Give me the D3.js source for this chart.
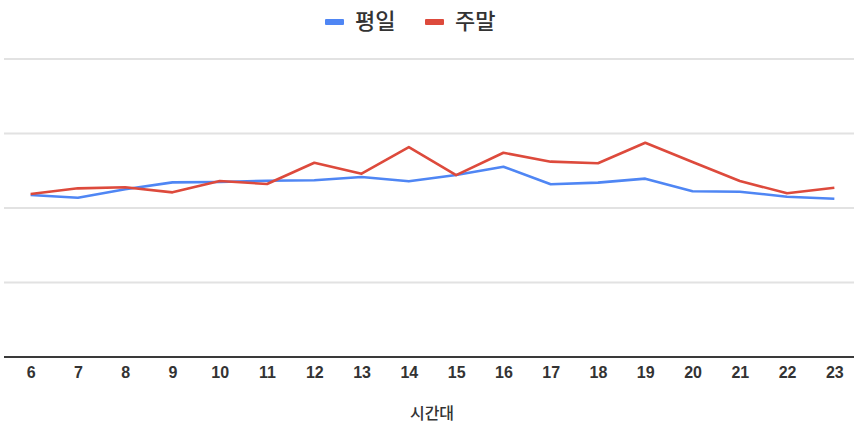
<!DOCTYPE html>
<html>
<head>
<meta charset="utf-8">
<script src="https://cdn.jsdelivr.net/npm/d3@7"></script>
<style>
  html, body { margin: 0; padding: 0; background: #fff; }
  svg { display: block; }
  text { font-family: "Noto Sans CJK KR", "Noto Sans", sans-serif; }
  .tick text { font-family: "Liberation Sans", Arial, sans-serif; }
</style>
</head>
<body>
<svg id="chart" width="854" height="424"></svg>
<script>
// Hours of the day (x categories)
const hours = [6, 7, 8, 9, 10, 11, 12, 13, 14, 15, 16, 17, 18, 19, 20, 21, 22, 23];
// Weekday series
const weekday = [108.7, 106.9, 112.6, 117.2, 117.4, 118.3, 118.6, 120.8, 117.9, 122.1, 127.7, 115.9, 117.0, 119.7, 111.2, 110.9, 107.6, 106.2];
// Weekend series
const weekend = [109.4, 113.2, 113.9, 110.5, 118.1, 116.1, 130.4, 123.0, 140.9, 122.1, 137.1, 131.1, 130.0, 143.8, 130.9, 118.1, 109.9, 113.6];
// Horizontal gridline values
const gridTicks = [50, 100, 150, 200];

const seriesNames = ["평일", "주말"];
const seriesColors = ["#4f86f4", "#dd4a3c"];
const xTitle = "시간대";

const svg = d3.select("#chart");
const W = 854;

const x = d3.scalePoint()
  .domain(hours)
  .range([7, 858])
  .padding(0.5);

const y = d3.scaleLinear()
  .domain([0, 200])
  .range([357, 59]);

// Gridlines
svg.append("g")
  .selectAll("line")
  .data(gridTicks)
  .join("line")
  .attr("x1", 4)
  .attr("x2", W)
  .attr("y1", d => y(d))
  .attr("y2", d => y(d))
  .attr("stroke", "#e2e2e2")
  .attr("stroke-width", 2);

// Baseline
svg.append("line")
  .attr("x1", 4)
  .attr("x2", W)
  .attr("y1", y(0))
  .attr("y2", y(0))
  .attr("stroke", "#3a3a3a")
  .attr("stroke-width", 2);

// X axis labels
const xAxis = d3.axisBottom(x).tickSize(0).tickPadding(10);
const gx = svg.append("g")
  .attr("transform", `translate(0,${y(0)})`)
  .call(xAxis);
gx.select(".domain").remove();
gx.selectAll("text")
  .attr("font-size", 16)
  .attr("font-weight", "bold")
  .attr("fill", "#333");

// X axis title
svg.append("text")
  .attr("x", 432)
  .attr("y", 419)
  .attr("text-anchor", "middle")
  .attr("font-size", 16)
  .attr("font-weight", 500)
  .attr("fill", "#333")
  .text(xTitle);

// Series lines
const line = d3.line()
  .x((d, i) => x(hours[i]))
  .y(d => y(d));

[weekday, weekend].forEach((vals, k) => {
  svg.append("path")
    .datum(vals)
    .attr("fill", "none")
    .attr("stroke", seriesColors[k])
    .attr("stroke-width", 2.6)
    .attr("stroke-linejoin", "round")
    .attr("d", line);
});

// Legend
const legend = svg.append("g");
const legendItems = [
  { name: seriesNames[0], color: seriesColors[0], x: 325 },
  { name: seriesNames[1], color: seriesColors[1], x: 425 }
];
legendItems.forEach(it => {
  legend.append("rect")
    .attr("x", it.x)
    .attr("y", 19)
    .attr("width", 19)
    .attr("height", 6)
    .attr("rx", 1)
    .attr("fill", it.color);
  legend.append("text")
    .attr("x", it.x + 30)
    .attr("y", 29)
    .attr("font-size", 22)
    .attr("font-weight", 500)
    .attr("fill", "#333")
    .text(it.name);
});
</script>
</body>
</html>
